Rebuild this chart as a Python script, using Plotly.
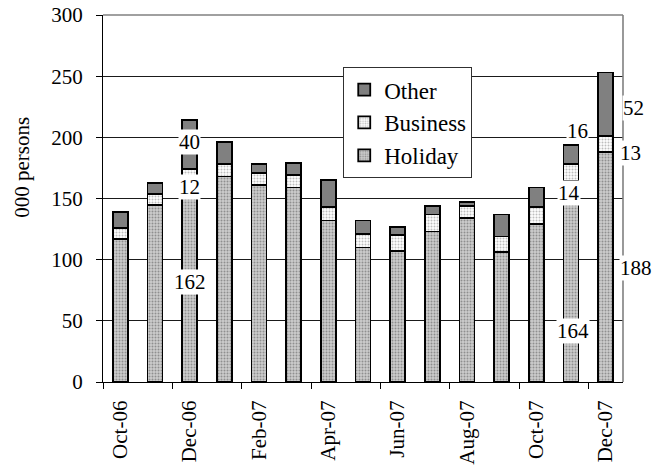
import plotly.graph_objects as go

# ---- data (thousand persons) ----
months = ["Oct-06", "Nov-06", "Dec-06", "Jan-07", "Feb-07", "Mar-07", "Apr-07",
          "May-07", "Jun-07", "Jul-07", "Aug-07", "Sep-07", "Oct-07", "Nov-07", "Dec-07"]
holiday = [117, 145, 162, 168, 161, 159, 132, 110, 107, 123, 134, 106, 129, 164, 188]
business = [9, 9, 12, 10, 10, 10, 11, 11, 13, 14, 10, 13, 14, 14, 13]
other = [13, 9, 40, 18, 7, 10, 22, 11, 7, 7, 3, 18, 16, 16, 52]
y_ticks = [0, 50, 100, 150, 200, 250, 300]

FONT = "Liberation Serif"
idx = list(range(len(months)))

fig = go.Figure()
series = [
    ("Holiday", holiday, 3, dict(color="#c4c4c4", pattern=dict(shape=".", fgcolor="#8f8f8f", bgcolor="#cdcdcd", size=3, solidity=0.35, fillmode="replace"))),
    ("Business", business, 2, dict(color="#ffffff", pattern=dict(shape=".", fgcolor="#bdbdbd", bgcolor="#ffffff", size=3, solidity=0.35, fillmode="replace"))),
    ("Other", other, 1, dict(color="#808080")),
]
for name, vals, rank, mk in series:
    mk = dict(mk)
    mk["line"] = dict(color="black", width=1.8)
    fig.add_trace(go.Bar(x=idx, y=vals, name=name, marker=mk, width=0.43,
                         legendrank=rank, hoverinfo="skip"))

# ---- value labels (white boxes), positioned relative to segment centres ----
label_style = [
    # (category, series, xshift px, yshift px, xanchor)
    (2, "Holiday", 0, 1, "center"), (2, "Business", 0, -11, "center"), (2, "Other", 0, 3, "center"),
    (13, "Holiday", 2, -49, "center"), (13, "Business", -2, -20, "center"), (13, "Other", 6, 23, "center"),
    (14, "Holiday", -4, -1, "left"), (14, "Business", -4, -9, "left"), (14, "Other", -1, -4, "left"),
]
vals_by = {"Holiday": holiday, "Business": business, "Other": other}
order = ["Holiday", "Business", "Other"]
for ci, sname, dx, dy, xa in label_style:
    base = sum(vals_by[s][ci] for s in order[:order.index(sname)])
    v = vals_by[sname][ci]
    xpos = ci if xa == "center" else ci + 0.5
    fig.add_annotation(x=xpos, y=base + v / 2, text=str(v), showarrow=False,
                       xanchor=xa, yanchor="middle", xshift=dx, yshift=dy,
                       bgcolor="white", borderpad=0,
                       font=dict(family=FONT, size=21, color="black"))

# y-axis title placed like the reference
fig.add_annotation(xref="paper", yref="paper", x=-0.155, y=0.585, text="000 persons",
                   textangle=-90, showarrow=False, xanchor="center", yanchor="middle",
                   font=dict(family=FONT, size=21, color="black"))

# grey top/right frame of the plot area
fig.add_shape(type="line", xref="paper", yref="paper", x0=0, x1=1, y0=1, y1=1,
              line=dict(color="#808080", width=1.6), layer="above")
fig.add_shape(type="line", xref="paper", yref="paper", x0=1, x1=1, y0=0, y1=1,
              line=dict(color="#808080", width=1.6), layer="above")

# the page body adds an 8px margin, so the figure is 8px smaller than the window
fig.update_layout(
    width=652, height=457,
    margin=dict(l=95, r=37, t=7, b=83, autoexpand=False),
    barmode="stack",
    plot_bgcolor="white", paper_bgcolor="white",
    font=dict(family=FONT, size=21, color="black"),
    showlegend=True,
    legend=dict(x=0.462, y=0.858, xanchor="left", yanchor="top",
                traceorder="normal",
                bordercolor="#303030", borderwidth=1, bgcolor="white",
                font=dict(family=FONT, size=23, color="black"),
                itemwidth=30),
    xaxis=dict(range=[-0.5, 14.5], tickmode="array", automargin=False,
               tickvals=idx[::2], ticktext=months[::2], tickangle=-90,
               ticks="", showgrid=False, zeroline=False,
               showline=True, linecolor="black", linewidth=1.3,
               ticklabelstandoff=9, ticklabeloverflow="allow",
               tickfont=dict(family=FONT, size=21, color="black"),
               minor=dict(tickmode="array", tickvals=[i - 0.5 for i in idx[::2]],
                          ticks="outside", ticklen=6, tickcolor="black", tickwidth=1.3,
                          showgrid=False)),
    yaxis=dict(range=[0, 300], tickmode="array", tickvals=y_ticks, automargin=False,
               ticks="outside", ticklen=6, tickcolor="black", tickwidth=1.3,
               showgrid=True, gridcolor="#1a1a1a", gridwidth=1,
               zeroline=False, showline=True, linecolor="black", linewidth=1.3,
               ticklabelstandoff=9, ticklabeloverflow="allow",
               tickfont=dict(family=FONT, size=21, color="black")),
)

fig.write_html("out.html")
